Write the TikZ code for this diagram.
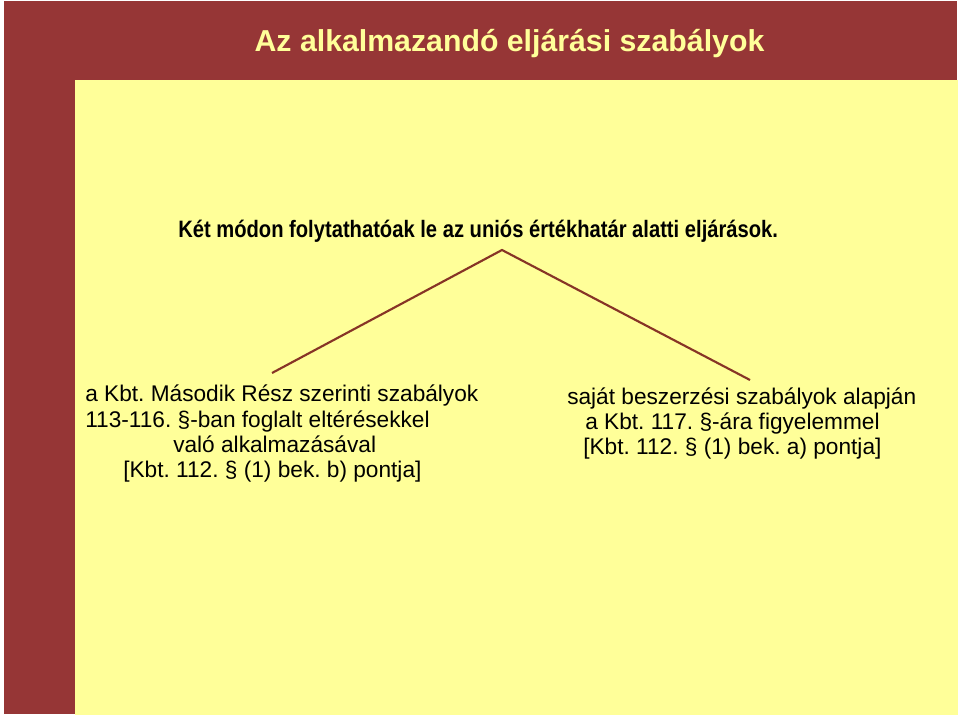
\documentclass[tikz,border=0pt]{standalone}
\usepackage{fontspec}
\setmainfont{Liberation Sans}
\newfontfamily\narrowsans[FakeStretch=0.85]{Liberation Sans}
\usepackage{tikz}
\usetikzlibrary{calc}
\usepackage{xcolor}
\definecolor{slidered}{RGB}{150,54,54}
\definecolor{slideyellow}{RGB}{255,255,153}
\definecolor{branchbrown}{RGB}{135,52,38}

\newcommand{\bodyfont}{\fontsize{17}{20}\selectfont}
\newcommand{\titlefont}{\fontsize{22.7}{26}\selectfont\bfseries}
\newcommand{\leadfont}{\narrowsans\fontsize{17.8}{21}\selectfont\bfseries}
\frenchspacing

\begin{document}
\begin{tikzpicture}[x=0.75pt, y=-0.75pt, every node/.style={inner sep=0pt, font=\bodyfont}]

% Slide frame
\useasboundingbox (0,0) rectangle (960,716);
\fill[white] (0,0) rectangle (960,716);
\fill[slideyellow] (75,80) rectangle (958,715);
\fill[slidered] (4,1) rectangle (957,80);
\fill[slidered] (4,1) rectangle (75,714);

% Title and lead sentence
\node[anchor=base, text=slideyellow, font=\titlefont] (title) at (509.5,52) {Az alkalmazandó eljárási szabályok};
\node[anchor=base west, font=\leadfont] (lead) at (178,238) {Két módon folytathatóak le az uniós értékhatár alatti eljárások.};

% Branches
\coordinate (apex) at (502,250);
\coordinate (ltip) at (272,373);
\coordinate (rtip) at (750,380);
\draw[branchbrown, line width=1.6pt] (ltip) -- (apex) -- (rtip);

% Left branch
\node[anchor=base west] (l1) at (85,402) {a Kbt. Második Rész szerinti szabályok};
\node[anchor=base west] (l2) at (85,427) {113-116. §-ban foglalt eltérésekkel};
\node[anchor=base west] (l3) at (173,452) {való alkalmazásával};
\node[anchor=base west] (l4) at (123,477) {[Kbt. 112. § (1) bek. b) pontja]};

% Right branch
\node[anchor=base west] (r1) at (567,405) {saját beszerzési szabályok alapján};
\node[anchor=base west] (r2) at (585,430) {a Kbt. 117. §-ára figyelemmel};
\node[anchor=base west] (r3) at (583,455) {[Kbt. 112. § (1) bek. a) pontja]};

\end{tikzpicture}
\end{document}
